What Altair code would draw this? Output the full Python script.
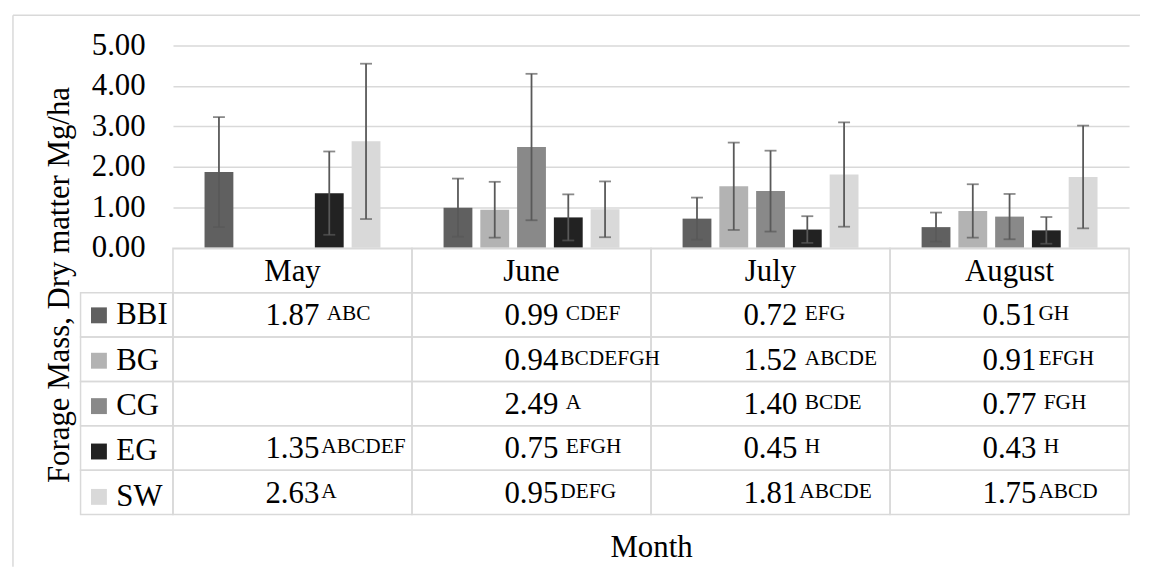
import altair as alt
import pandas as pd

# ---------------- data ----------------
months = ["May", "June", "July", "August"]
series = ["BBI", "BG", "CG", "EG", "SW"]
colors = ["#606060", "#b3b3b3", "#898989", "#222222", "#d9d9d9"]

# mean forage mass (Mg/ha); None = no value
bbi = [1.87, 0.99, 0.72, 0.51]
bg = [None, 0.94, 1.52, 0.91]
cg = [None, 2.49, 1.40, 0.77]
eg = [1.35, 0.75, 0.45, 0.43]
sw = [2.63, 0.95, 1.81, 1.75]

# error-bar half widths
bbi_err = [1.36, 0.72, 0.52, 0.36]
bg_err = [None, 0.69, 1.08, 0.66]
cg_err = [None, 1.81, 1.00, 0.56]
eg_err = [1.03, 0.57, 0.33, 0.33]
sw_err = [1.92, 0.69, 1.29, 1.27]

# significance letters (leading space = visible gap in the table)
bbi_let = [" ABC", " CDEF", " EFG", "GH"]
bg_let = ["", "BCDEFGH", " ABCDE", "EFGH"]
cg_let = ["", " A", " BCDE", " FGH"]
eg_let = ["ABCDEF", " EFGH", " H", " H"]
sw_let = ["A", "DEFG", "ABCDE", "ABCD"]

y_title = "Forage Mass, Dry matter Mg/ha"
x_title = "Month"
header_key = "Month"

# ---------------- tables ----------------
rows = []
for s, vals, errs, lets in zip(series, [bbi, bg, cg, eg, sw],
                               [bbi_err, bg_err, cg_err, eg_err, sw_err],
                               [bbi_let, bg_let, cg_let, eg_let, sw_let]):
    for m, v, e, l in zip(months, vals, errs, lets):
        if v is None:
            continue
        txt = ("\u200b\u00a0" + l[1:]) if l.startswith(" ") else l
        rows.append(dict(month=m, series=s, row=s, value=v, lo=v - e, hi=v + e, letters=txt))
df = pd.DataFrame(rows)

row_domain = [header_key] + series
cells_df = pd.DataFrame([{"month": m, "row": r} for r in row_domain for m in months])
head_df = pd.DataFrame({"month": months, "row": [header_key] * len(months)})
lab_df = pd.DataFrame({"row": series})
frame_df = pd.DataFrame({"k": [0]})

FONT = "Liberation Serif"
GRID = "#d9d9d9"
ERR = "#595959"
FS = 31

# ---------------- bar chart ----------------
x_enc = alt.X("month:N", scale=alt.Scale(domain=months, paddingInner=0, paddingOuter=0), axis=None)
xo_enc = alt.XOffset("series:N", scale=alt.Scale(domain=series, paddingInner=0.216, paddingOuter=0.858))
y_scale = alt.Scale(domain=[0, 5], nice=False)
y_axis = alt.Axis(values=[0, 1, 2, 3, 4, 5], format=".2f", title=y_title,
                  grid=True, gridColor=GRID, gridWidth=1.5,
                  domain=False, ticks=False, tickSize=0, labelPadding=28,
                  labelFont=FONT, titleFont=FONT, labelColor="black", titleColor="black",
                  titleFontWeight="normal",
                  labelFontSize=FS, titleFontSize=FS,
                  titleAngle=270, titleAlign="center", titleBaseline="alphabetic",
                  titleX=-105, titleY=240.5)

base = alt.Chart(df)
bars = base.mark_bar().encode(
    x=x_enc, xOffset=xo_enc,
    y=alt.Y("value:Q", scale=y_scale, axis=y_axis, title=y_title),
    color=alt.Color("series:N", scale=alt.Scale(domain=series, range=colors),
                    legend=alt.Legend(title=None, orient="none", legendX=3, legendY=256,
                                      symbolType="square", symbolSize=256, symbolStrokeWidth=0,
                                      labelFontSize=FS, labelFont=FONT, labelColor="black",
                                      labelOffset=2, rowPadding=13.67, padding=0,
                                      direction="vertical")),
)
err_rule = base.mark_rule(color=ERR, strokeWidth=1.8).encode(
    x=x_enc, xOffset=xo_enc,
    y=alt.Y("lo:Q", scale=y_scale, axis=y_axis, title=y_title), y2="hi:Q")
cap_hi = base.mark_tick(color=ERR, thickness=1.8, size=12).encode(
    x=x_enc, xOffset=xo_enc, y=alt.Y("hi:Q", scale=y_scale, axis=y_axis, title=y_title))
cap_lo = base.mark_tick(color=ERR, thickness=1.8, size=12).encode(
    x=x_enc, xOffset=xo_enc, y=alt.Y("lo:Q", scale=y_scale, axis=y_axis, title=y_title))
bar_chart = alt.layer(bars, err_rule, cap_hi, cap_lo).properties(width=962, height=203.5)

# ---------------- frame (spacer cell) ----------------
top_line = alt.Chart(frame_df).mark_rule(color=GRID, strokeWidth=1.5).encode(
    x=alt.value(-68), x2=alt.value(1066), y=alt.value(-30.5))
left_line = alt.Chart(frame_df).mark_rule(color=GRID, strokeWidth=1.5).encode(
    x=alt.value(-68), y=alt.value(-30.5), y2=alt.value(524.5))
spacer = alt.layer(top_line, left_line).properties(width=93, height=203.5)

# ---------------- data table ----------------
y_tab = alt.Y("row:N", scale=alt.Scale(domain=row_domain, paddingInner=0, paddingOuter=0), axis=None)
x_tab = alt.X("month:N", scale=alt.Scale(domain=months, paddingInner=0, paddingOuter=0),
              axis=alt.Axis(title=x_title, labels=False, ticks=False, domain=False, grid=False,
                            titleFont=FONT, titleColor="black", titleFontWeight="normal",
                            titlePadding=42, titleBaseline="alphabetic", titleFontSize=FS))

grid = alt.Chart(cells_df).mark_rect(fill="transparent", stroke=GRID, strokeWidth=1.5).encode(x=x_tab, y=y_tab)
head = alt.Chart(head_df).mark_text(font=FONT, fontSize=FS, baseline="alphabetic", dy=10.5,
                                    color="black").encode(x=x_tab, y=y_tab, text="month:N")
nums = alt.Chart(df).mark_text(font=FONT, align="left", baseline="alphabetic", dx=-27.25, dy=10.5,
                               fontSize=FS, color="black").encode(
    x=x_tab, y=y_tab, text=alt.Text("value:Q", format=".2f"))
lets = alt.Chart(df).mark_text(font=FONT, align="left", baseline="alphabetic", dx=29, dy=5.5,
                               fontSize=21.5, color="black").encode(
    x=x_tab, y=y_tab, text="letters:N")
table = alt.layer(grid, head, nums, lets).properties(width=962, height=268)

lab = alt.Chart(lab_df).mark_rect(fill="transparent", stroke=GRID, strokeWidth=1.5).encode(
    y=alt.Y("row:N", scale=alt.Scale(domain=row_domain, paddingInner=0, paddingOuter=0), axis=None)
).properties(width=93, height=268)

chart = alt.concat(spacer, bar_chart, lab, table, columns=2, spacing=0,
                   bounds="flush", align="each").properties(
    padding={"left": 4, "top": 4, "right": 0, "bottom": 0}
).configure_view(stroke=None).configure_axis(
    labelFont=FONT, titleFont=FONT, labelColor="black", titleColor="black",
    titleFontWeight="normal"
).configure_legend(labelFont=FONT, labelColor="black").configure_text(font=FONT, color="black")

chart.save("out.html", embed_options={"renderer": "svg", "actions": False})
